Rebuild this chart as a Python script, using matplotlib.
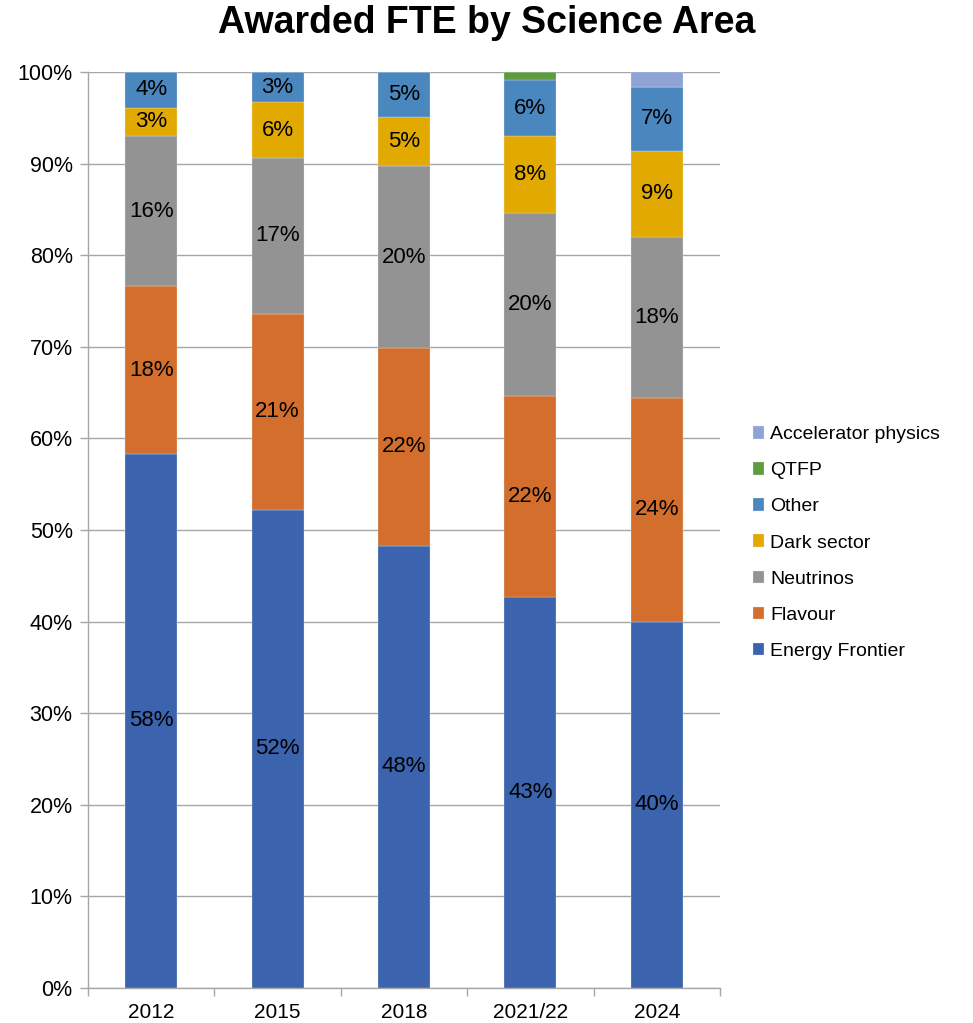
import matplotlib
matplotlib.use("Agg")
import matplotlib.pyplot as plt
from matplotlib.ticker import PercentFormatter, FixedLocator

plt.rcParams['font.family'] = ['Liberation Sans', 'DejaVu Sans']

years = ["2012", "2015", "2018", "2021/22", "2024"]
series = ["Energy Frontier", "Flavour", "Neutrinos", "Dark sector", "Other", "QTFP", "Accelerator physics"]
energy_frontier = [58.3, 52.2, 48.3, 42.7, 40.0]
flavour = [18.3, 21.4, 21.6, 21.9, 24.4]
neutrinos = [16.4, 17.0, 19.8, 20.0, 17.6]
dark_sector = [3.1, 6.1, 5.4, 8.4, 9.4]
other = [3.9, 3.3, 4.9, 6.1, 7.0]
qtfp = [0.0, 0.0, 0.0, 0.9, 0.0]
accelerator = [0.0, 0.0, 0.0, 0.0, 1.6]
values = [energy_frontier, flavour, neutrinos, dark_sector, other, qtfp, accelerator]
colors = ["#3C64AE", "#D46E2C", "#939393", "#E2A900", "#4A87BF", "#5E9C3F", "#8FA3D6"]
labelled = [True, True, True, True, True, False, False]

fig = plt.figure(figsize=(9.73, 10.23), dpi=100)
ax = fig.add_axes([88/973, 1 - 988/1023, (720-88)/973, (988-72)/1023])

x = list(range(len(years)))
bottom = [0.0]*len(years)
handles = []
for name, vals, c, lab in zip(series, values, colors, labelled):
    b = ax.bar(x, vals, width=0.41, bottom=bottom, color=c, label=name, zorder=3,
               edgecolor='#E8EEF6', linewidth=0.2)
    handles.append(b)
    if lab:
        for xi, v, bt in zip(x, vals, bottom):
            if v > 0:
                ax.text(xi, bt + v/2, f"{round(v):d}%", ha='center', va='center',
                        fontsize=16, color='black', zorder=4)
    bottom = [bt + v for bt, v in zip(bottom, vals)]

ax.set_ylim(0, 100)
ax.set_xlim(-0.5, len(years) - 0.5)
ax.yaxis.set_major_locator(FixedLocator(range(0, 101, 10)))
ax.yaxis.set_major_formatter(PercentFormatter(decimals=0))
ax.yaxis.grid(True, color='#A6A6A6', linewidth=1, zorder=0)
ax.set_xticks(x)
ax.set_xticklabels(years)
ax.set_xticks([i - 0.5 for i in range(len(years)+1)], minor=True)
ax.tick_params(axis='x', which='major', length=0, labelsize=15, pad=11)
ax.tick_params(axis='x', which='minor', length=6, color='#A6A6A6', width=1)
ax.tick_params(axis='y', length=6, color='#A6A6A6', width=1, labelsize=15.5, pad=5)
for s in ['top', 'right']:
    ax.spines[s].set_visible(False)
for s in ['left', 'bottom']:
    ax.spines[s].set_color('#A6A6A6')
    ax.spines[s].set_linewidth(1)

fig.text(487/973, 1 - 23/1023, "Awarded FTE by Science Area", ha='center', va='center',
         fontsize=27, fontweight='bold')

leg = fig.legend(handles[::-1], series[::-1], loc='center left',
                 bbox_to_anchor=(735/973, 1 - 543/1023), frameon=False,
                 fontsize=14, handlelength=0.6, handleheight=0.6, handletextpad=0.3,
                 labelspacing=0.98)

fig.savefig("out.png", dpi=100)
